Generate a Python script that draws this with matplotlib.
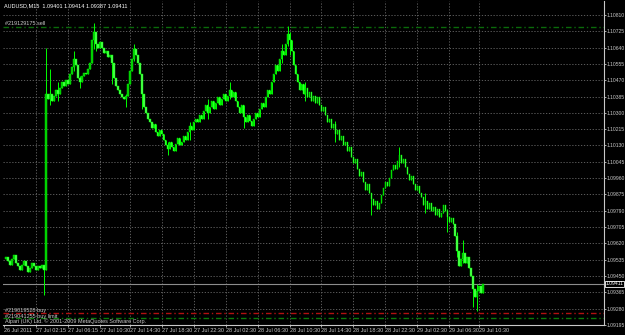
import numpy as np
import matplotlib
matplotlib.use("Agg")
import matplotlib.pyplot as plt
import matplotlib.transforms as mtransforms

plt.rcParams['font.family'] = ['Liberation Sans Narrow', 'Liberation Sans', 'DejaVu Sans']

# AUDUSD M15 closes, 16 bars (4 hours) per row
closes = [
    1.0955, 1.0953, 1.0951, 1.0954, 1.0956, 1.0952, 1.0950, 1.0948, 1.0951, 1.0953, 1.0950, 1.0947, 1.0949, 1.0952, 1.0950, 1.0948,
    1.0950, 1.0949, 1.0951, 1.0948, 1.1040, 1.1037, 1.1040, 1.1036, 1.1039, 1.1042, 1.1040, 1.1043, 1.1046, 1.1044, 1.1047, 1.1045,
    1.1050, 1.1054, 1.1058, 1.1055, 1.1048, 1.1046, 1.1049, 1.1051, 1.1050, 1.1053, 1.1056, 1.1068, 1.1072, 1.1066, 1.1064, 1.1067,
    1.1064, 1.1061, 1.1062, 1.1059, 1.1060, 1.1056, 1.1048, 1.1044, 1.1042, 1.1040, 1.1038, 1.1037, 1.1039, 1.1045, 1.1052, 1.1058,
    1.1063, 1.1060, 1.1056, 1.1050, 1.1040, 1.1033, 1.1030, 1.1027, 1.1025, 1.1022, 1.1024, 1.1020, 1.1018, 1.1021, 1.1019, 1.1016,
    1.1013, 1.1011, 1.1015, 1.1012, 1.1010, 1.1014, 1.1017, 1.1013, 1.1015, 1.1018, 1.1016, 1.1020, 1.1023, 1.1021, 1.1025, 1.1027,
    1.1025, 1.1029, 1.1027, 1.1031, 1.1034, 1.1030, 1.1033, 1.1036, 1.1032, 1.1035, 1.1038, 1.1034, 1.1037, 1.1040, 1.1036, 1.1039,
    1.1042, 1.1038, 1.1041, 1.1036, 1.1033, 1.1030, 1.1034, 1.1028, 1.1025, 1.1029, 1.1026, 1.1023, 1.1027, 1.1030, 1.1028, 1.1032,
    1.1035, 1.1033, 1.1038, 1.1042, 1.1040, 1.1046, 1.1050, 1.1055, 1.1052, 1.1058, 1.1062, 1.1060, 1.1066, 1.1071, 1.1068, 1.1062,
    1.1055, 1.1050, 1.1046, 1.1042, 1.1045, 1.1040, 1.1043, 1.1038, 1.1041, 1.1036, 1.1039, 1.1035, 1.1038, 1.1034, 1.1031, 1.1033,
    1.1029, 1.1025, 1.1027, 1.1022, 1.1024, 1.1019, 1.1021, 1.1016, 1.1018, 1.1013, 1.1015, 1.1010, 1.1012, 1.1007, 1.1004, 1.1006,
    1.1001, 1.0997, 1.0999, 1.0994, 1.0990, 1.0993, 1.0988, 1.0985, 1.0982, 1.0984, 1.0980, 1.0983, 1.0987, 1.0991, 1.0994, 1.0992,
    1.0996, 1.1000, 1.1003, 1.1001, 1.1005, 1.1008, 1.1004, 1.1006, 1.1002, 1.0998, 1.0995, 1.0997, 1.0993, 1.0990, 1.0992, 1.0988,
    1.0986, 1.0982, 1.0984, 1.0980, 1.0983, 1.0979, 1.0981, 1.0977, 1.0980, 1.0976, 1.0978, 1.0982, 1.0979, 1.0976, 1.0973, 1.0975,
    1.0972, 1.0966, 1.0958, 1.0950, 1.0954, 1.0957, 1.0952, 1.0955, 1.0949, 1.0945, 1.0938, 1.0934, 1.0937, 1.0940, 1.0936, 1.09411,
]
first_open = 1.0954

# bars with visible shadows: index, high, low
wick_bars = [19, 20, 22, 26, 34, 37, 44, 45, 53, 60, 64, 68, 81, 92, 101, 112,
             119, 138, 141, 142, 150, 165, 183, 197, 210, 221, 226, 229, 234, 236]
wick_highs = [1.0951, 1.1064, 1.1053, 1.1046, 1.1062, 1.1049, 1.1077, 1.1072, 1.1060, 1.1040,
              1.1066, 1.1043, 1.1015, 1.1025, 1.1037, 1.1046, 1.1030, 1.1066, 1.1075, 1.1072,
              1.1046, 1.1026, 1.0984, 1.1012, 1.0988, 1.0980, 1.0968, 1.0964, 1.0940, 1.0941]
wick_lows = [1.0935, 1.0960, 1.1034, 1.1036, 1.1052, 1.1043, 1.1063, 1.1062, 1.1045, 1.1033,
             1.1057, 1.1032, 1.1008, 1.1016, 1.1027, 1.1037, 1.1022, 1.1056, 1.1065, 1.1060,
             1.1036, 1.1015, 1.0977, 1.1002, 1.0978, 1.0968, 1.0955, 1.0952, 1.0929, 1.0927]

price_ticks = [1.10810, 1.10725, 1.10640, 1.10555, 1.10470, 1.10385, 1.10300, 1.10215, 1.10130,
               1.10045, 1.09960, 1.09875, 1.09790, 1.09705, 1.09620, 1.09535, 1.09450, 1.09365,
               1.09280, 1.09195]
time_bars = [-1, 15, 31, 47, 62, 78, 94, 110, 126, 142, 158, 174, 190, 206, 222, 237]
time_labels = ["26 Jul 2011", "27 Jul 02:15", "27 Jul 06:15", "27 Jul 10:30", "27 Jul 14:30",
               "27 Jul 18:30", "27 Jul 22:30", "28 Jul 02:30", "28 Jul 06:30", "28 Jul 10:30",
               "28 Jul 14:30", "28 Jul 18:30", "28 Jul 22:30", "29 Jul 02:30", "29 Jul 06:30",
               "29 Jul 10:30"]

bid = 1.09411
sell_level = 1.10747
buy_level = 1.09258
limit_level = 1.09232

title = "AUDUSD,M15  1.09401 1.09414 1.09387 1.09411"

# ---- build candles
c = np.array(closes)
o = np.concatenate([[first_open], c[:-1]])
hi = np.maximum(o, c)
lo = np.minimum(o, c)
for b, h, l in zip(wick_bars, wick_highs, wick_lows):
    hi[b] = max(hi[b], h)
    lo[b] = min(lo[b], l)
x = np.arange(len(c))

fig = plt.figure(figsize=(6.25, 3.35), dpi=100, facecolor="black")
ax = fig.add_axes([3 / 625, 10 / 335, 601 / 625, 324 / 335], facecolor="black")
ax.set_xlim(-1.5, 299.5)
ax.set_ylim(1.09195, 1.09195 + 324 * 0.00085 / 16.32)

# grid
for p in price_ticks:
    ax.axhline(p, color="#6a6a6a", lw=0.6, ls=(0, (1.5, 2)), zorder=0)
for b in time_bars[1:]:
    ax.axvline(b, color="#6a6a6a", lw=0.6, ls=(0, (1.5, 2)), zorder=0)

# candles
ax.vlines(x, lo, hi, color="#00ff00", lw=0.7, zorder=3)
up = c >= o
bot = np.minimum(o, c)
bh = np.maximum(np.abs(c - o), 0.00002)
ax.bar(x[up], bh[up], bottom=bot[up], width=0.75,
       color="#00c800", edgecolor="#00ff00", lw=0.3, zorder=4)
ax.bar(x[~up], bh[~up], bottom=bot[~up], width=0.75,
       color="#50ff50", edgecolor="#00ff00", lw=0.3, zorder=4)

# order / bid lines
ax.axhline(bid, color="#8c8c8c", lw=0.8, zorder=2)
ax.axhline(sell_level, color="#0a6a0a", lw=1.0, ls=(0, (4, 2, 1, 2)), zorder=2)
ax.axhline(buy_level, color="#b01010", lw=1.0, ls=(0, (4, 2, 1, 2)), zorder=2)
ax.axhline(limit_level, color="#0a7a0a", lw=1.0, ls=(0, (4, 2, 1, 2)), zorder=2)

fs = 4.0
pfs = 3.6
trans = mtransforms.blended_transform_factory(ax.transAxes, ax.transData)
ax.text(0.003, sell_level + 0.00008, "#219129175 sell", color="#c8c8c8", fontsize=fs,
        transform=trans)
ax.text(0.003, buy_level + 0.00003, "#219019528 buy", color="#c8c8c8", fontsize=fs,
        transform=trans)
ax.text(0.003, limit_level + 0.00001, "#219041255 buy limit", color="#c8c8c8", fontsize=fs,
        transform=trans)
ax.text(0.003, 0.004, "Alpari (UK) Ltd. \u00a9 2001-2009 MetaQuotes Software Corp.",
        color="#c8c8c8", fontsize=fs, transform=ax.transAxes, va="bottom")
ax.text(0.002, 0.993, title, color="white", fontsize=fs, transform=ax.transAxes, va="top")

# axes styling
for s in ax.spines.values():
    s.set_color("#c8c8c8")
    s.set_linewidth(0.8)
ax.spines["left"].set_visible(False)
ax.spines["top"].set_visible(False)
ax.yaxis.tick_right()
ax.set_yticks(price_ticks)
ax.set_yticklabels(["%.5f" % p for p in price_ticks])
ax.set_xticks(time_bars)
ax.set_xticklabels(time_labels)
ax.tick_params(axis="both", colors="#c8c8c8", length=1.5, width=0.6, pad=0.6)
ax.tick_params(axis="x", labelsize=fs)
ax.tick_params(axis="y", labelsize=pfs)
for lab in ax.get_xticklabels():
    lab.set_horizontalalignment("left")

ax.text(1.003, bid, "%.5f" % bid, color="white", fontsize=pfs, va="center", ha="left",
        transform=trans, zorder=6,
        bbox=dict(boxstyle="square,pad=0.1", fc="black", ec="white", lw=0.6))

fig.savefig("out.png", dpi=100, facecolor="black")
